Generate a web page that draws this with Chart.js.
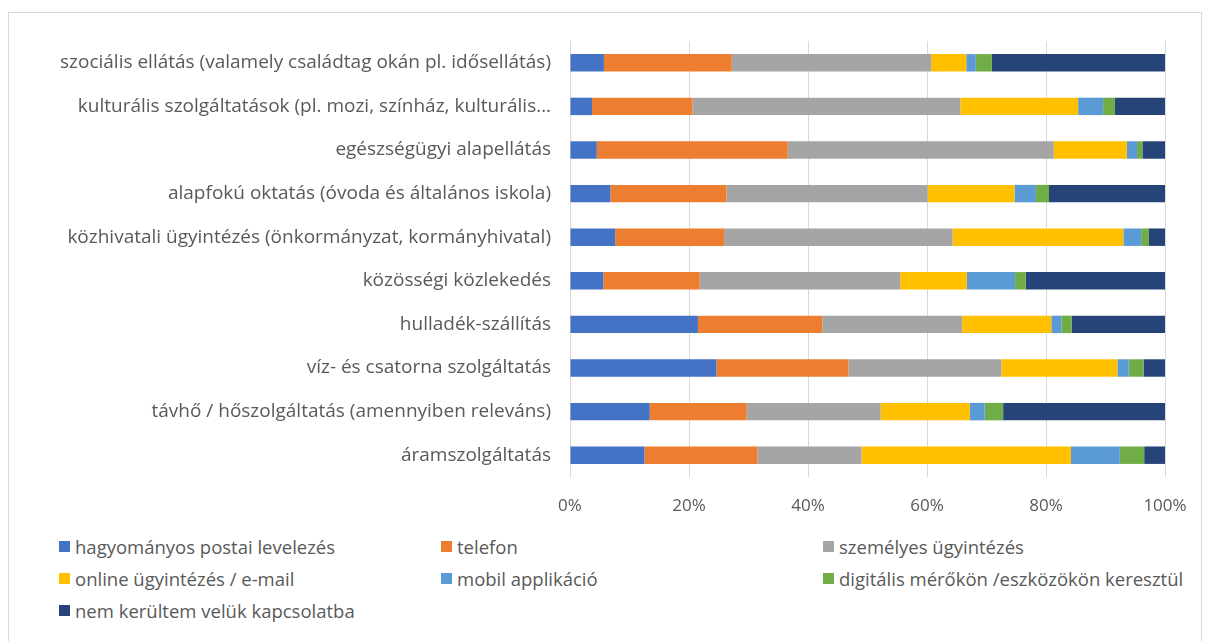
<!DOCTYPE html>
<html lang="hu">
<head>
<meta charset="utf-8">
<title>Kapcsolattartás módja szolgáltatásonként</title>
<script src="https://cdn.jsdelivr.net/npm/chart.js@4"></script>
<style>
  html, body { margin: 0; padding: 0; background: #ffffff; }
  body { width: 1208px; height: 641px; position: relative; overflow: hidden; font-family: "Open Sans", sans-serif; }
  #frame { position: absolute; left: 8px; top: 12px; width: 1194px; height: 660px; border: 1px solid #d9d9d9; box-sizing: border-box; }
  #wrap { position: absolute; left: 0; top: 0; width: 1208px; height: 525px; }
  #legend { position: absolute; left: 59px; top: 535px; display: grid; grid-template-columns: 382px 382px 380px; row-gap: 10px; }
  .item { display: flex; align-items: center; height: 22px; font-size: 18.5px; color: #595959; white-space: nowrap; }
  .swatch { width: 11px; height: 11px; margin-right: 5px; flex: none; }
</style>
</head>
<body>
<div id="frame"></div>
<div id="wrap"><canvas id="chart"></canvas></div>
<div id="legend"></div>
<script>
// Services (top to bottom) and the share of each contact channel, in percent
const categories = [
  "szociális ellátás (valamely családtag okán pl. idősellátás)",
  "kulturális szolgáltatások (pl. mozi, színház, kulturális…",
  "egészségügyi alapellátás",
  "alapfokú oktatás (óvoda és általános iskola)",
  "közhivatali ügyintézés (önkormányzat, kormányhivatal)",
  "közösségi közlekedés",
  "hulladék-szállítás",
  "víz- és csatorna szolgáltatás",
  "távhő / hőszolgáltatás (amennyiben releváns)",
  "áramszolgáltatás"
];

const seriesNames = [
  "hagyományos postai levelezés",
  "telefon",
  "személyes ügyintézés",
  "online ügyintézés / e-mail",
  "mobil applikáció",
  "digitális mérőkön /eszközökön keresztül",
  "nem kerültem velük kapcsolatba"
];

const postai    = [5.7, 3.7, 4.5, 6.8, 7.6, 5.6, 21.5, 24.6, 13.4, 12.5];
const telefon   = [21.5, 16.9, 32.1, 19.5, 18.3, 16.2, 20.9, 22.2, 16.3, 19.0];
const szemelyes = [33.5, 45.0, 44.7, 33.8, 38.4, 33.7, 23.5, 25.7, 22.5, 17.5];
const online    = [5.9, 19.8, 12.3, 14.6, 28.7, 11.2, 15.0, 19.5, 15.0, 35.2];
const mobil     = [1.6, 4.2, 1.7, 3.6, 3.0, 8.1, 1.7, 1.9, 2.5, 8.2];
const digitalis = [2.7, 2.0, 0.9, 2.2, 1.3, 1.8, 1.7, 2.5, 3.1, 4.1];
const nem       = [29.1, 8.4, 3.8, 19.5, 2.7, 23.4, 15.7, 3.6, 27.2, 3.5];

const xTicks = [0, 20, 40, 60, 80, 100];

const colors = ["#4472C4", "#ED7D31", "#A5A5A5", "#FFC000", "#5B9BD5", "#70AD47", "#264478"];
const values = [postai, telefon, szemelyes, online, mobil, digitalis, nem];

const textColor = "#595959";
const fontFamily = "'Open Sans', sans-serif";

const datasets = seriesNames.map((name, i) => ({
  label: name,
  data: values[i],
  backgroundColor: colors[i],
  borderWidth: 0,
  barPercentage: 0.4,
  categoryPercentage: 1.0
}));

const chart = new Chart(document.getElementById("chart"), {
  type: "bar",
  data: { labels: categories, datasets },
  options: {
    indexAxis: "y",
    responsive: true,
    maintainAspectRatio: false,
    animation: false,
    layout: { padding: { top: 41, right: 43, left: 0, bottom: 0 } },
    plugins: { legend: { display: false }, tooltip: { enabled: false } },
    scales: {
      x: {
        stacked: true,
        min: 0,
        max: 100,
        afterBuildTicks: (scale) => { scale.ticks = xTicks.map(v => ({ value: v })); },
        afterFit: (scale) => { scale.height = 48; },
        grid: { color: "#d9d9d9", lineWidth: 1, drawTicks: false },
        border: { display: false },
        ticks: {
          padding: 19,
          color: textColor,
          font: { family: fontFamily, size: 17 },
          callback: (v) => v + "%"
        }
      },
      y: {
        stacked: true,
        afterFit: (scale) => { scale.width = 570; },
        grid: { display: false, drawTicks: false },
        border: { display: true, color: "#d9d9d9", width: 1 },
        ticks: {
          padding: 19,
          color: textColor,
          font: { family: fontFamily, size: 19 }
        }
      }
    }
  }
});

// Legend laid out in three columns, built from the chart's datasets
const legendEl = document.getElementById("legend");
chart.data.datasets.forEach(ds => {
  const item = document.createElement("div");
  item.className = "item";
  const sw = document.createElement("span");
  sw.className = "swatch";
  sw.style.background = ds.backgroundColor;
  const tx = document.createElement("span");
  tx.textContent = ds.label;
  item.appendChild(sw);
  item.appendChild(tx);
  legendEl.appendChild(item);
});
</script>
</body>
</html>
